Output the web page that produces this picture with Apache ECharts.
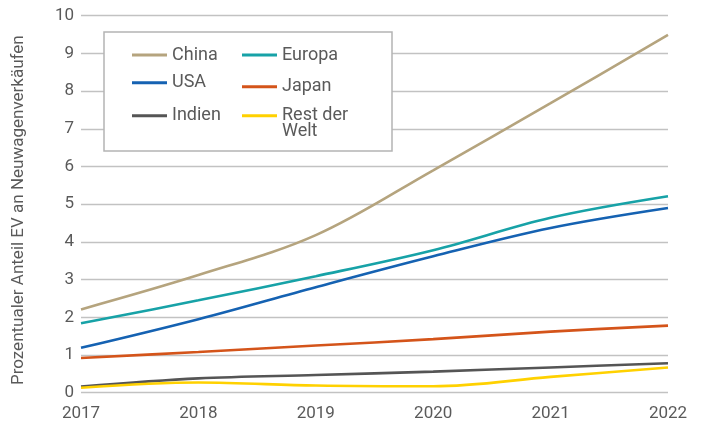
<!DOCTYPE html>
<html>
<head>
<meta charset="utf-8">
<script src="https://cdn.jsdelivr.net/npm/echarts@6/dist/echarts.min.js"></script>
<style>
  html, body { margin: 0; padding: 0; background: #fff; }
  #chart { width: 704px; height: 423px; }
</style>
</head>
<body>
<div id="chart"></div>
<script>
// EV share of new car sales, in percent, by region
const years = ['2017', '2018', '2019', '2020', '2021', '2022'];
const china = [2.21, 3.12, 4.18, 5.9, 7.68, 9.49];
const europa = [1.84, 2.45, 3.09, 3.78, 4.64, 5.21];
const usa = [1.19, 1.95, 2.8, 3.62, 4.37, 4.9];
const japan = [0.92, 1.08, 1.25, 1.42, 1.62, 1.78];
const indien = [0.16, 0.38, 0.47, 0.56, 0.67, 0.78];
const restDerWelt = [0.13, 0.27, 0.19, 0.17, 0.42, 0.67];
const yTicks = [0, 1, 2, 3, 4, 5, 6, 7, 8, 9, 10];

const FONT = 'Roboto';
const TEXT = '#5a5a5a';

const seriesDefs = [
  { name: 'China', data: china, color: '#b5a47e' },
  { name: 'Europa', data: europa, color: '#17a2a7' },
  { name: 'USA', data: usa, color: '#1562b2' },
  { name: 'Japan', data: japan, color: '#d4541a' },
  { name: 'Indien', data: indien, color: '#555555' },
  { name: 'Rest der Welt', data: restDerWelt, color: '#ffd100' }
];

// one legend entry per slot inside the framed box
function legendItem(name, left, top, extra) {
  return Object.assign({
    data: [name],
    left: left,
    top: top,
    padding: 0,
    icon: 'rect',
    itemWidth: 35,
    itemHeight: 3,
    z: 5,
    selectedMode: false,
    textStyle: { fontFamily: FONT, fontSize: 18, color: TEXT, lineHeight: 18 }
  }, extra || {});
}

const chart = echarts.init(document.getElementById('chart'), null, { renderer: 'canvas' });

chart.setOption({
  animation: false,
  backgroundColor: '#ffffff',
  grid: { left: 81, right: 36, top: 15.7, bottom: 30.3 },
  graphic: [{
    type: 'rect',
    z: 3,
    shape: { x: 104, y: 32, width: 288, height: 119 },
    style: { fill: '#ffffff', stroke: '#b4b4b4', lineWidth: 1.5 }
  }],
  legend: [
    legendItem('China', 132, 46),
    legendItem('USA', 132, 73.7),
    legendItem('Indien', 132, 106.7),
    legendItem('Europa', 242, 46),
    legendItem('Japan', 242, 77.7),
    // first line of the label sits level with the swatch; the blank line above balances the block
    legendItem('Rest der Welt', 242, 90.7, {
      formatter: function () { return '\u00a0\nRest der\nWelt'; },
      textStyle: { fontFamily: FONT, fontSize: 18, color: TEXT, lineHeight: 16 }
    })
  ],
  xAxis: {
    type: 'category',
    data: years,
    boundaryGap: false,
    axisLine: { show: false },
    axisTick: { show: false },
    axisLabel: { fontFamily: FONT, fontSize: 17, color: TEXT, margin: 13 }
  },
  yAxis: {
    type: 'value',
    min: yTicks[0],
    max: yTicks[yTicks.length - 1],
    interval: 1,
    name: 'Prozentualer Anteil EV an Neuwagenverkäufen',
    nameLocation: 'middle',
    nameRotate: 90,
    nameGap: 54,
    nameTextStyle: { fontFamily: FONT, fontSize: 17, color: TEXT, padding: [0, 12, 0, 0] },
    axisLine: { show: false },
    axisTick: { show: false },
    axisLabel: { fontFamily: FONT, fontSize: 17, color: TEXT, margin: 7 },
    splitLine: { show: true, lineStyle: { color: '#c2c2c2', width: 1.3 } }
  },
  series: seriesDefs.map(function (s) {
    return {
      type: 'line',
      name: s.name,
      data: s.data,
      smooth: 0.35,
      showSymbol: false,
      symbol: 'none',
      color: s.color,
      lineStyle: { color: s.color, width: 2.6 },
      itemStyle: { color: s.color },
      z: 2
    };
  })
});
</script>
</body>
</html>
